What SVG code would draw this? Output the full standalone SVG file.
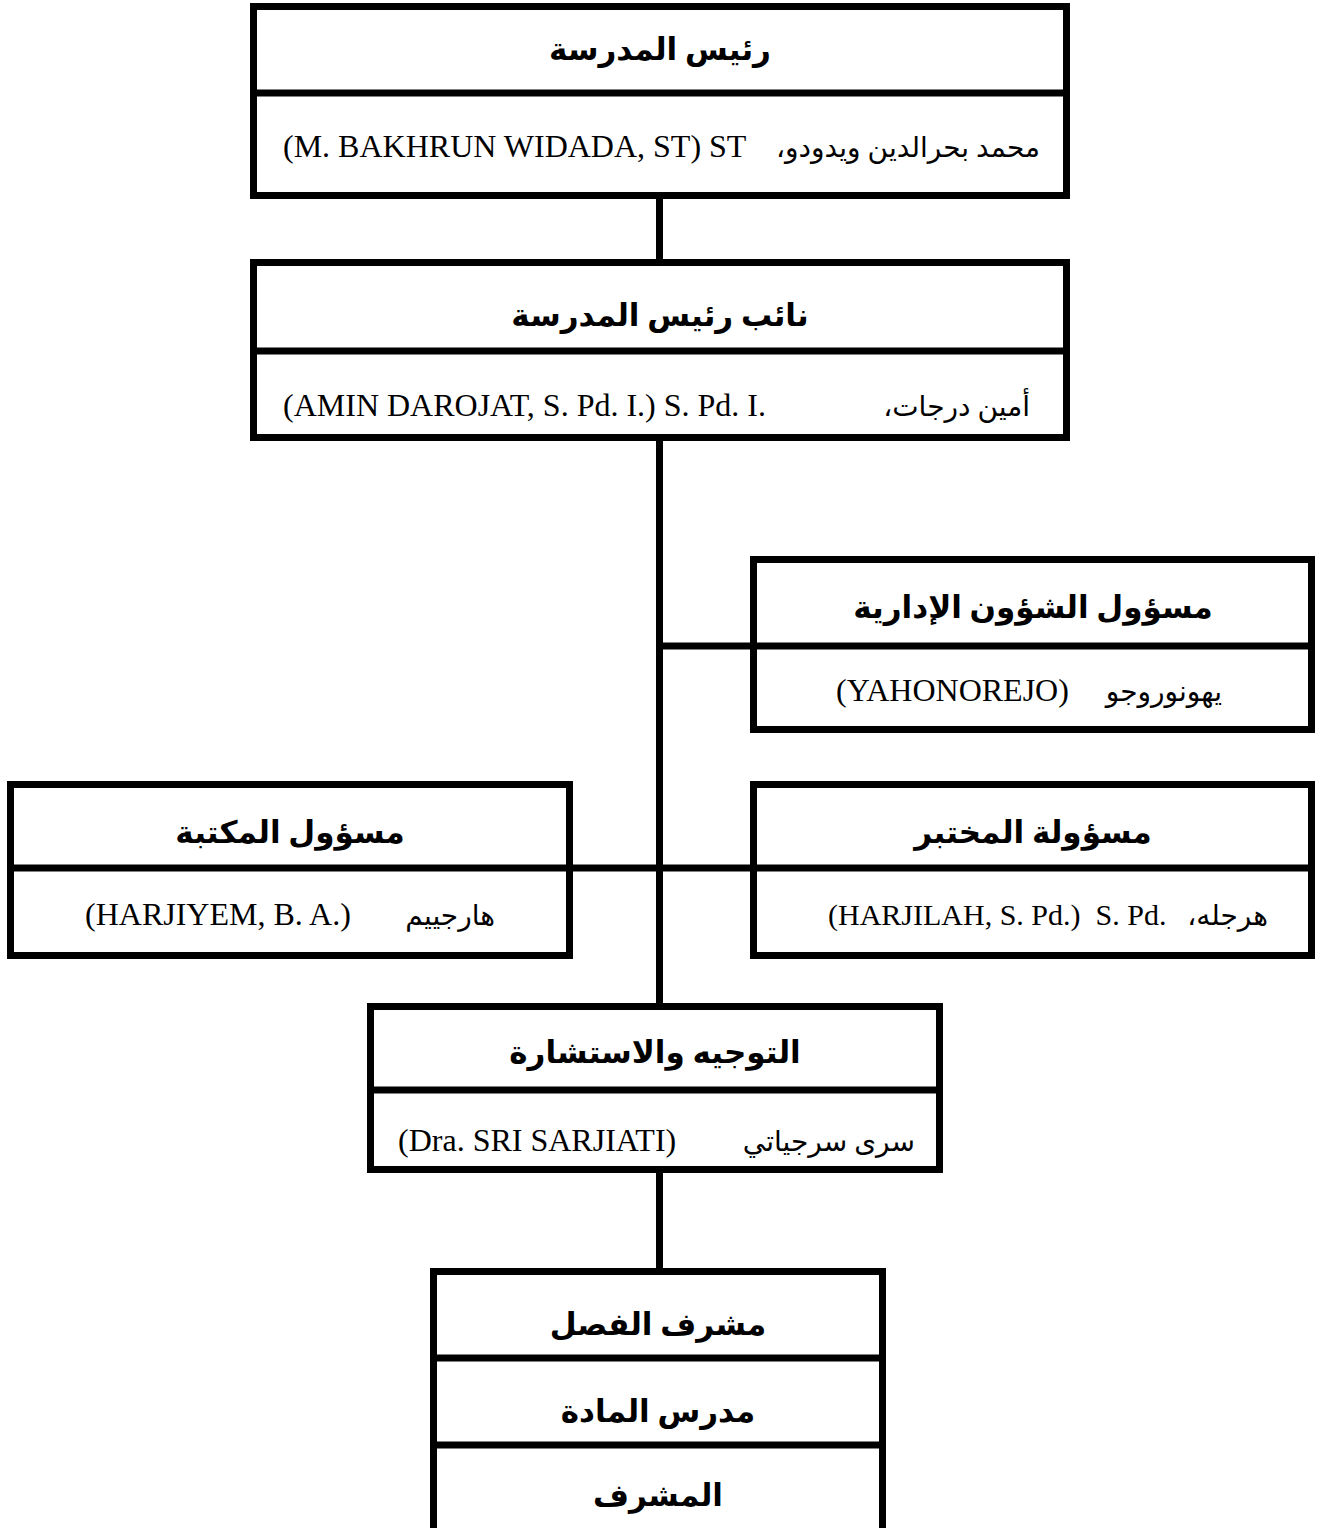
<svg xmlns="http://www.w3.org/2000/svg" width="1319" height="1528" viewBox="0 0 1319 1528">
<style>
.box{fill:#fff;stroke:#000;stroke-width:7}
.div{stroke:#000;stroke-width:7}
.con{stroke:#000;stroke-width:7;fill:none}
.t{font-family:"Liberation Serif","DejaVu Sans",serif;font-size:31px;font-weight:bold;text-anchor:middle;fill:#000}
.lat{font-family:"Liberation Serif",serif;font-size:32px;fill:#000}
.ar{font-family:"Liberation Serif","DejaVu Sans",serif;font-size:28px;fill:#000;direction:rtl}
</style>
<rect width="1319" height="1528" fill="#fff"/>
<g id="connectors">
<line class="con" x1="659.5" y1="199" x2="659.5" y2="259"/>
<line class="con" x1="659.5" y1="441" x2="659.5" y2="1003"/>
<line class="con" x1="659.5" y1="646" x2="750" y2="646"/>
<line class="con" x1="573" y1="868" x2="750" y2="868"/>
<line class="con" x1="659.5" y1="1173" x2="659.5" y2="1268"/>
</g>
<g id="principal">
<rect class="box" x="253.5" y="6.5" width="813" height="189"/>
<line class="div" x1="250" y1="93" x2="1070" y2="93"/>
<text class="t" x="660" y="60">رئيس المدرسة</text>
<text class="lat" x="283" y="157">(M. BAKHRUN WIDADA, ST) ST</text>
<text class="ar" x="1040" y="157" text-anchor="start">محمد بحرالدين ويدودو،</text>
</g>
<g id="vice">
<rect class="box" x="253.5" y="262.5" width="813" height="175"/>
<line class="div" x1="250" y1="351" x2="1070" y2="351"/>
<text class="t" x="660" y="326">نائب رئيس المدرسة</text>
<text class="lat" x="283" y="416">(AMIN DAROJAT, S. Pd. I.) S. Pd. I.</text>
<text class="ar" x="1030" y="416" text-anchor="start">أمين درجات،</text>
</g>
<g id="admin">
<rect class="box" x="753.5" y="559.5" width="558" height="170"/>
<line class="div" x1="750" y1="646" x2="1315" y2="646"/>
<text class="t" x="1033" y="618">مسؤول الشؤون الإدارية</text>
<text class="lat" x="836" y="701">(YAHONOREJO)</text>
<text class="ar" x="1222" y="701" text-anchor="start">يهونوروجو</text>
</g>
<g id="library">
<rect class="box" x="10.5" y="784.5" width="559" height="171"/>
<line class="div" x1="7" y1="868" x2="573" y2="868"/>
<text class="t" x="290" y="843">مسؤول المكتبة</text>
<text class="lat" x="85" y="925">(HARJIYEM, B. A.)</text>
<text class="ar" x="495" y="925" text-anchor="start">هارجييم</text>
</g>
<g id="lab">
<rect class="box" x="753.5" y="784.5" width="558" height="171"/>
<line class="div" x1="750" y1="868" x2="1315" y2="868"/>
<text class="t" x="1033" y="843">مسؤولة المختبر</text>
<text class="lat" x="828" y="925" style="font-size:30px" xml:space="preserve">(HARJILAH, S. Pd.)  S. Pd.</text>
<text class="ar" x="1268" y="925" text-anchor="start">هرجله،</text>
</g>
<g id="guidance">
<rect class="box" x="370.5" y="1006.5" width="569" height="163"/>
<line class="div" x1="367" y1="1090" x2="943" y2="1090"/>
<text class="t" x="655" y="1063">التوجيه والاستشارة</text>
<text class="lat" x="398" y="1151">(Dra. SRI SARJIATI)</text>
<text class="ar" x="915" y="1151" text-anchor="start">سرى سرجياتي</text>
</g>
<g id="teachers">
<rect class="box" x="433.5" y="1271.5" width="449" height="275"/>
<line class="div" x1="430" y1="1358" x2="886" y2="1358"/>
<line class="div" x1="430" y1="1445" x2="886" y2="1445"/>
<text class="t" x="658" y="1335">مشرف الفصل</text>
<text class="t" x="658" y="1422">مدرس المادة</text>
<text class="t" x="658" y="1506">المشرف</text>
</g>
</svg>
